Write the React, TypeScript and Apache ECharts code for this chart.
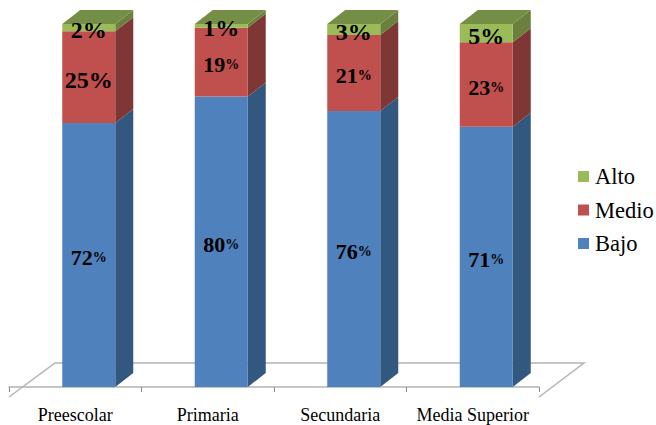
import React, { useEffect, useRef } from "react";
import * as echarts from "echarts";

const niveles = ["Preescolar", "Primaria", "Secundaria", "Media Superior"];
const bajo = [72, 80, 76, 71];
const medio = [25, 19, 21, 23];
const alto = [2, 1, 3, 5];
// Labels whose percent sign is printed at the same size as the number
const signoGrande: Record<string, boolean[]> = {
  Bajo: [false, false, false, false],
  Medio: [true, false, false, false],
  Alto: [true, true, true, true],
};

const SERIF = "'Liberation Serif', 'Times New Roman', serif";
const DEPTH_X = 18;
const DEPTH_Y = -14;
const BAR_SHIFT = 13.5;
const LABEL_DROP = 2.5;

const palette = {
  Bajo: { front: "#4F81BD", side: "#335880", top: "#3F6797" },
  Medio: { front: "#C0504D", side: "#7F3735", top: "#9A403E" },
  Alto: { front: "#9BBB59", side: "#6A803C", top: "#748F45" },
};

const totals = niveles.map((_, i) => bajo[i] + medio[i] + alto[i]);

function stackedRows(own: number[], below: number[][]) {
  // Each column is a 100% stack, so every value is taken as a share of its column's total
  return own.map((v, i) => {
    const base = below.reduce((sum, s) => sum + s[i], 0);
    return [i, (base / totals[i]) * 100, ((base + v) / totals[i]) * 100, v];
  });
}

function makeRenderItem(name: "Bajo" | "Medio" | "Alto", showTop: boolean) {
  const c = palette[name];
  return (_params: any, api: any) => {
    const cat = api.value(0);
    const a = api.coord([cat, api.value(1)]);
    const b = api.coord([cat, api.value(2)]);
    const value = api.value(3);
    const band = api.size([1, 0])[0];
    const w = band * 0.4;
    const x0 = a[0] + BAR_SHIFT - w / 2;
    const x1 = x0 + w;
    const yLow = a[1];
    const yHigh = b[1];
    const big = signoGrande[name][cat];
    const children: any[] = [
      {
        type: "polygon",
        shape: {
          points: [
            [x1, yLow],
            [x1 + DEPTH_X, yLow + DEPTH_Y],
            [x1 + DEPTH_X, yHigh + DEPTH_Y],
            [x1, yHigh],
          ],
        },
        style: { fill: c.side },
      },
      {
        type: "rect",
        shape: { x: x0, y: yHigh, width: w, height: yLow - yHigh },
        style: { fill: c.front },
      },
    ];
    if (showTop) {
      children.push({
        type: "polygon",
        shape: {
          points: [
            [x0, yHigh],
            [x1, yHigh],
            [x1 + DEPTH_X, yHigh + DEPTH_Y],
            [x0 + DEPTH_X, yHigh + DEPTH_Y],
          ],
        },
        style: { fill: c.top },
      });
    }
    children.push({
      type: "text",
      z2: 10,
      x: x0 + w / 2,
      y: (yLow + yHigh) / 2 + LABEL_DROP,
      style: {
        text: big ? `{g|${value}%}` : `{n|${value}}{p|%}`,
        align: "center",
        verticalAlign: "middle",
        rich: {
          g: { fontFamily: SERIF, fontWeight: "bold", fontSize: 24, fill: "#000", color: "#000" },
          n: { fontFamily: SERIF, fontWeight: "bold", fontSize: 22, fill: "#000", color: "#000" },
          p: { fontFamily: SERIF, fontWeight: "bold", fontSize: 14, fill: "#000", color: "#000" },
        },
      },
    });
    return { type: "group", children };
  };
}

function makeSeries(name: "Bajo" | "Medio" | "Alto", own: number[], below: number[][], showTop: boolean) {
  return {
    type: "custom",
    name,
    clip: false,
    itemStyle: { color: palette[name].front },
    renderItem: makeRenderItem(name, showTop),
    encode: { x: 0, y: [1, 2] },
    data: stackedRows(own, below),
  };
}

export default function App() {
  const ref = useRef<HTMLDivElement>(null);
  useEffect(() => {
    const chart = echarts.init(ref.current!, null, { renderer: "svg" });
    chart.setOption({
      animation: false,
      backgroundColor: "#fff",
      grid: { left: 9, top: 24, width: 530, height: 363, outerBoundsMode: "none" },
      xAxis: {
        type: "category",
        data: niveles,
        offset: 11,
        axisLine: { lineStyle: { color: "#b3b3b3", width: 1.5 } },
        axisTick: { show: true, length: 5, alignWithLabel: false, lineStyle: { color: "#8a8a8a" } },
        axisLabel: {
          interval: 0,
          margin: 8,
          color: "#000",
          fontFamily: SERIF,
          fontSize: 18,
        },
      },
      yAxis: { type: "value", min: 0, max: 100, show: false },
      legend: {
        orient: "vertical",
        left: 578,
        top: 165,
        padding: 0,
        itemWidth: 11,
        itemHeight: 11,
        itemGap: 10.5,
        icon: "rect",
        data: ["Alto", "Medio", "Bajo"],
        textStyle: { color: "#000", fontFamily: SERIF, fontSize: 22.5, padding: [0, 0, 0, 1] },
      },
      graphic: [
        {
          type: "polyline",
          z: -1,
          shape: { points: [[9, 397], [55, 363], [584, 363], [539, 397]] },
          style: { stroke: "#b3b3b3", lineWidth: 1.5, fill: "none" },
        },
      ],
      series: [
        makeSeries("Bajo", bajo, [], false),
        makeSeries("Medio", medio, [bajo], false),
        makeSeries("Alto", alto, [bajo, medio], true),
      ],
    });
    return () => chart.dispose();
  }, []);
  return <div ref={ref} style={{ position: "absolute", left: 0, top: 0, width: 656, height: 425, overflow: "hidden" }} />;
}
